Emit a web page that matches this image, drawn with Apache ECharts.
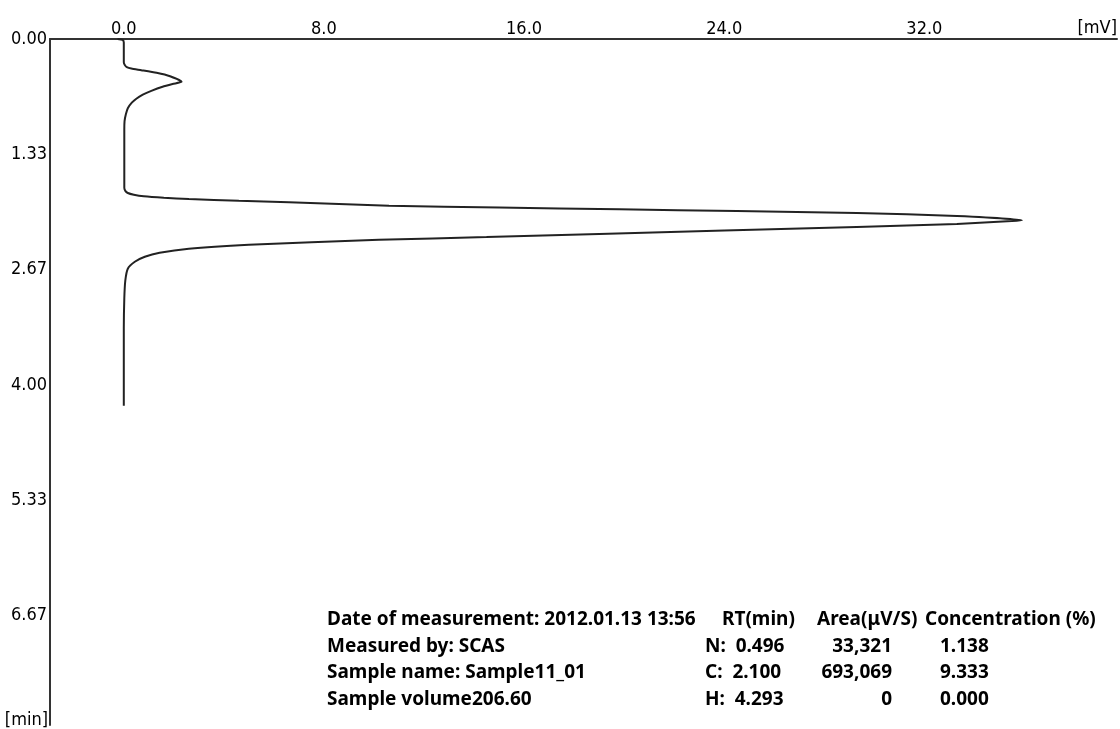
<!DOCTYPE html>
<html>
<head>
<meta charset="utf-8">
<script src="https://cdn.jsdelivr.net/npm/echarts@6/dist/echarts.min.js"></script>
<style>
  html, body { margin: 0; padding: 0; background: #fff; }
  #chart { width: 1120px; height: 729px; }
</style>
</head>
<body>
<div id="chart"></div>
<script>
// chromatogram trace: signal (mV) vs retention time (min)
const signalMv = [
  -0.25, -0.05, 0.0, 0.0, 0.04, 0.12, 0.30, 0.70, 1.31, 1.85, 2.31, 1.95, 1.55, 1.10, 0.76, 0.50,
  0.32, 0.16, 0.08, 0.03, 0.02, 0.02, 0.02, 0.06, 0.16, 0.40, 0.8, 1.6, 2.6, 4.6, 6.6, 10.6,
  15.0, 19.8, 24.5, 29.3, 33.3, 35.9, 35.5, 33.3, 29.3, 24.0, 19.0, 14.5, 10.2, 7.5, 5.0, 2.6,
  1.43, 0.84, 0.44, 0.16, 0.06, 0.02, 0.0, 0.0, 0.0
];
const timeMin = [
  0.0, 0.01, 0.04, 0.27, 0.30, 0.325, 0.342, 0.36, 0.39, 0.43, 0.494, 0.52, 0.552, 0.60, 0.644, 0.69,
  0.736, 0.80, 0.874, 0.95, 1.05, 1.40, 1.72, 1.755, 1.78, 1.80, 1.818, 1.835, 1.850, 1.870, 1.888, 1.928,
  1.948, 1.969, 1.989, 2.011, 2.046, 2.095, 2.105, 2.138, 2.172, 2.215, 2.253, 2.290, 2.322, 2.350, 2.379, 2.425,
  2.471, 2.517, 2.575, 2.655, 2.793, 3.0, 3.35, 3.8, 4.24
];

const xTicks = [0, 8, 16, 24, 32];
const yTicks = [0, 4 / 3, 8 / 3, 4, 16 / 3, 20 / 3];

const infoLines = [
  'Date of measurement: 2012.01.13 13:56',
  'Measured by: SCAS',
  'Sample name: Sample11_01',
  'Sample volume206.60'
];
const peakNames = ['N', 'C', 'H'];
const peakRT = ['0.496', '2.100', '4.293'];
const peakArea = ['33,321', '693,069', '0'];
const peakConc = ['1.138', '9.333', '0.000'];

const axisFont = '"DejaVu Sans Condensed", "Liberation Sans", sans-serif';
const tableFont = 'bold 19px "Noto Sans", "Open Sans", sans-serif';

const trace = signalMv.map((v, i) => [v, timeMin[i]]);

const rowY = [620, 647, 673, 700];
const texts = [];
const txt = (x, y, s, align) => texts.push({
  type: 'text', x: x, y: y,
  style: { text: s, font: tableFont, fill: '#000', align: align || 'left', verticalAlign: 'middle' }
});
infoLines.forEach((s, i) => txt(327, rowY[i], s));
txt(722, rowY[0], 'RT(min)');
txt(817, rowY[0], 'Area(\u03bcV/S)');
txt(925, rowY[0], 'Concentration (%)');
peakNames.forEach((p, i) => {
  txt(705, rowY[i + 1], p + ':  ' + peakRT[i]);
  txt(892, rowY[i + 1], peakArea[i], 'right');
  txt(940, rowY[i + 1], peakConc[i]);
});

const labelStyle = { fontFamily: axisFont, fontSize: 18, color: '#000' };

const chart = echarts.init(document.getElementById('chart'));
chart.setOption({
  animation: false,
  backgroundColor: '#fff',
  grid: { left: 50, top: 39, right: 0, bottom: 0 },
  xAxis: {
    type: 'value',
    position: 'top',
    min: -2.95,
    max: 39.7,
    name: '[mV]',
    nameLocation: 'end',
    nameGap: 0,
    nameTextStyle: Object.assign({}, labelStyle, { align: 'right', verticalAlign: 'bottom', padding: [0, 0, 2, 0] }),
    axisLine: { show: true, onZero: false, lineStyle: { color: '#333', width: 2 } },
    axisTick: { show: false },
    splitLine: { show: false },
    axisLabel: Object.assign({}, labelStyle, {
      customValues: xTicks,
      margin: 1,
      formatter: v => v.toFixed(1)
    })
  },
  yAxis: {
    type: 'value',
    inverse: true,
    min: 0,
    max: 7.93,
    name: '[min]',
    nameLocation: 'end',
    nameGap: 0,
    nameTextStyle: Object.assign({}, labelStyle, { align: 'right', verticalAlign: 'bottom', padding: [0, 2, -4, 0] }),
    axisLine: { show: true, onZero: false, lineStyle: { color: '#333', width: 2 } },
    axisTick: { show: false },
    splitLine: { show: false },
    axisLabel: Object.assign({}, labelStyle, {
      customValues: yTicks,
      margin: 3,
      formatter: v => v.toFixed(2)
    })
  },
  series: [{
    type: 'line',
    data: trace,
    showSymbol: false,
    smooth: 0.2,
    lineStyle: { color: '#222', width: 2 }
  }],
  graphic: texts
});
</script>
</body>
</html>
